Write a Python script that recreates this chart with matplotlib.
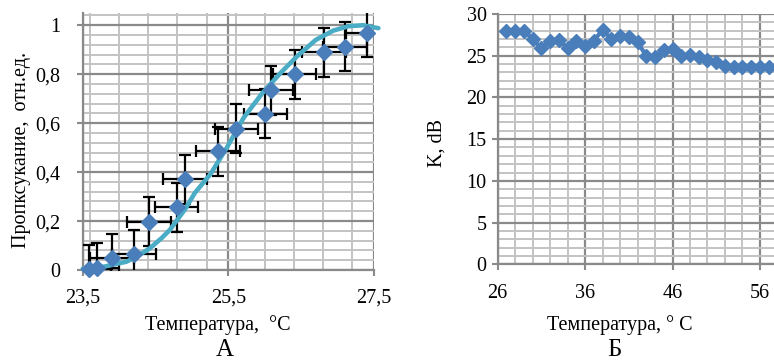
import numpy as np
import matplotlib
matplotlib.use("Agg")
import matplotlib.pyplot as plt
from matplotlib.ticker import MultipleLocator, FuncFormatter

# ---- Panel A data ----
temp_a = [23.59, 23.70, 23.90, 24.20, 24.41, 24.79, 24.90, 25.36, 25.61, 26.01, 26.09, 26.41, 26.81, 27.10, 27.41]
trans_a = [0.003, 0.01, 0.048, 0.065, 0.197, 0.256, 0.370, 0.486, 0.578, 0.639, 0.735, 0.800, 0.889, 0.912, 0.969]
xerr_a = [0.3] * len(temp_a)
yerr_a = [0.1] * len(temp_a)
# trend curve
curve_x = [23.50, 23.80, 24.10, 24.20, 24.42, 24.59, 24.70, 24.91, 25.04, 25.25, 25.48, 25.71,
           25.96, 26.20, 26.45, 26.70, 26.94, 27.15, 27.35, 27.56]
curve_y = [0.005, 0.014, 0.034, 0.048, 0.088, 0.132, 0.165, 0.250, 0.315, 0.390, 0.500, 0.622,
           0.720, 0.800, 0.875, 0.940, 0.978, 0.996, 1.000, 0.988]
xticks_a = [23.5, 25.5, 27.5]
yticks_a = [0, 0.2, 0.4, 0.6, 0.8, 1.0]

# ---- Panel B data ----
temp_b = list(range(27, 58))
k_b = [28.0, 28.0, 28.0, 27.0, 25.9, 26.8, 26.9, 25.9, 26.8, 26.2, 26.8, 28.1, 27.0, 27.4, 27.2,
       26.6, 25.0, 24.8, 25.7, 25.8, 25.0, 25.1, 24.9, 24.5, 24.3, 23.8, 23.7, 23.7, 23.7, 23.7, 23.7]
xticks_b = [26, 36, 46, 56]
yticks_b = [0, 5, 10, 15, 20, 25, 30]

plt.rcParams['font.family'] = ['Liberation Serif', 'DejaVu Serif']

W, H = 774, 362
fig = plt.figure(figsize=(W / 100, H / 100), dpi=100)

def px_axes(l, t, r, b):
    return fig.add_axes([l / W, 1 - b / H, (r - l) / W, (b - t) / H])

MINOR_C = '#c3c3c3'
MAJOR_C = '#8a8a8a'
BLUE = '#4a7ebb'
AQUA = '#4bacc6'
FS = 14.5

def comma(v, pos):
    s = ('%g' % round(v, 3)).replace('.', ',')
    return s

def style(ax, xmaj, xmin, ymaj, ymin, xpad, ypad):
    ax.xaxis.set_major_locator(MultipleLocator(xmaj))
    ax.xaxis.set_minor_locator(MultipleLocator(xmin))
    ax.yaxis.set_major_locator(MultipleLocator(ymaj))
    ax.yaxis.set_minor_locator(MultipleLocator(ymin))
    ax.grid(which='minor', color=MINOR_C, lw=1.4, zorder=0)
    ax.grid(which='major', color=MAJOR_C, lw=1.6, zorder=0)
    ax.set_axisbelow(True)
    for s in ['top', 'right']:
        ax.spines[s].set_visible(False)
    ax.spines['left'].set_color(MAJOR_C)
    ax.spines['left'].set_linewidth(1.6)
    ax.spines['bottom'].set_color(MAJOR_C)
    ax.spines['bottom'].set_linewidth(1.6)
    ax.tick_params(which='major', direction='out', length=4, width=1.5, color=MAJOR_C, labelsize=FS)
    ax.tick_params(which='minor', length=0)
    ax.tick_params(axis='x', pad=xpad)
    ax.tick_params(axis='y', pad=ypad)
    ax.xaxis.set_major_formatter(FuncFormatter(comma))
    ax.yaxis.set_major_formatter(FuncFormatter(comma))

# ---- Panel A ----
axa = px_axes(82.7, 13, 374, 270)
axa.set_xlim(23.5, 27.5)
axa.set_ylim(0, 1.05)
style(axa, 2, 0.4, 0.2, 0.04, 9, 12)
axa.set_xticks(xticks_a)
axa.set_yticks(yticks_a)
axa.errorbar(temp_a, trans_a, xerr=xerr_a, yerr=yerr_a, fmt='none', ecolor='black',
             elinewidth=1.6, capsize=4, capthick=1.6, zorder=3)
axa.plot(curve_x, curve_y, color=AQUA, lw=3.3, zorder=4, clip_on=False,
         solid_capstyle='round', solid_joinstyle='round')
axa.plot(temp_a, trans_a, linestyle='none', marker='D', ms=8, color=BLUE, zorder=5, clip_on=False)

# ---- Panel B ----
axb = px_axes(497.7, 14, 497.7 + 32 * 8.74, 264.3)
axb.set_xlim(26, 58)
axb.set_ylim(0, 30)
style(axb, 10, 2, 5, 1, 10, 4)
axb.set_xticks(xticks_b)
axb.set_yticks(yticks_b)
axb.plot(temp_b, k_b, color=BLUE, lw=3.0, marker='D', ms=7, zorder=5, clip_on=False)

# ---- Labels ----
fig.text(218 / W, 1 - 325 / H, 'Температура,  °C', ha='center', va='center', fontsize=FS)
fig.text(620 / W, 1 - 325 / H, 'Температура, ° C', ha='center', va='center', fontsize=FS)
fig.text(225 / W, 1 - 350 / H, 'А', ha='center', va='center', fontsize=18)
fig.text(614 / W, 1 - 350 / H, 'Б', ha='center', va='center', fontsize=18)
fig.text(22 / W, 1 - 150 / H, 'Пропксукание,  отн.ед.', ha='center', va='center',
         rotation=90, fontsize=FS)
fig.text(437 / W, 1 - 143 / H, 'K, dB', ha='center', va='center', rotation=90, fontsize=FS)

fig.savefig('out.png', dpi=100)
